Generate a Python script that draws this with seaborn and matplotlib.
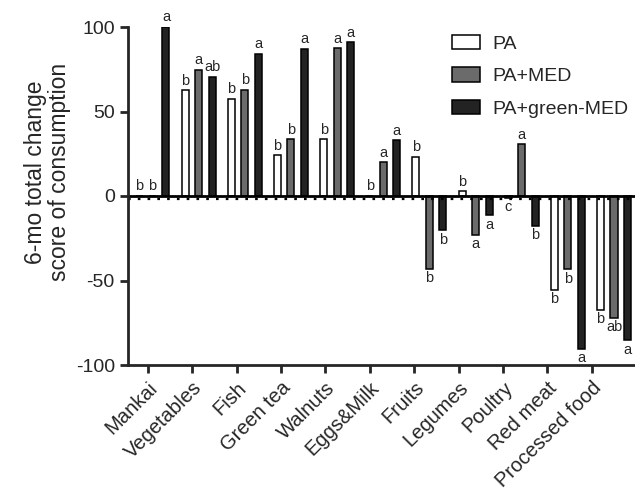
import pandas as pd
import numpy as np
import matplotlib
matplotlib.use("Agg")
import matplotlib.pyplot as plt
import matplotlib.transforms as mtransforms
import seaborn as sns

foods = ['Mankai', 'Vegetables', 'Fish', 'Green tea', 'Walnuts', 'Eggs&Milk',
         'Fruits', 'Legumes', 'Poultry', 'Red meat', 'Processed food']
groups = ['PA', 'PA+MED', 'PA+green-MED']

pa = [0, 62.6, 57.4, 24.0, 33.5, 0, 23.2, 2.7, -1.0, -55.5, -67.3]
pa_med = [0, 74.6, 62.8, 33.5, 87.4, 19.9, -43.1, -22.8, 30.7, -43.3, -72.0]
pa_green = [100, 70.7, 84.2, 87.0, 91.1, 32.9, -20.1, -11.4, -17.7, -90.5, -85.4]

pa_letters = ['b', 'b', 'b', 'b', 'b', 'b', 'b', 'b', 'c', 'b', 'b']
med_letters = ['b', 'a', 'b', 'b', 'a', 'a', 'b', 'a', 'a', 'b', 'ab']
green_letters = ['a', 'ab', 'a', 'a', 'a', 'a', 'b', 'a', 'b', 'a', 'a']

colors = ['white', '#6b6b6b', '#232323']

rows = []
for g, vals in zip(groups, [pa, pa_med, pa_green]):
    for f, v in zip(foods, vals):
        rows.append({'food': f, 'group': g, 'score': v})
df = pd.DataFrame(rows)

sns.set_style('ticks')
plt.rcParams['font.family'] = ['Liberation Sans', 'DejaVu Sans']
plt.rcParams['axes.unicode_minus'] = False

fig = plt.figure(figsize=(6.35, 4.92), dpi=100)
ax = fig.add_axes([128 / 635, 1 - 365 / 492, 507 / 635, 338 / 492])

sns.barplot(data=df, x='food', y='score', hue='group', order=foods,
            hue_order=groups, palette=colors, width=0.876, gap=0.48,
            edgecolor='black', linewidth=1.1, errorbar=None, ax=ax,
            legend=True)

# significance letters
for k, (vals, lets) in enumerate([(pa, pa_letters), (pa_med, med_letters),
                                  (pa_green, green_letters)]):
    off = (k - 1) * 0.292
    for i, (v, t) in enumerate(zip(vals, lets)):
        if v >= 0:
            ax.text(i + off, v + 1.5, t, ha='center', va='bottom',
                    fontsize=10.5, clip_on=False)
        else:
            ax.text(i + off, v - 1.5, t, ha='center', va='top',
                    fontsize=10.5, clip_on=False)

ax.set_xlim(-0.531, 10.455)
ax.set_ylim(-100, 100)
ax.set_yticks([-100, -50, 0, 50, 100])

# zero line with small dotted marks under it
ax.axhline(0, color='black', lw=2, zorder=1)
shift = mtransforms.offset_copy(ax.transData, fig=fig, x=0, y=-2.5, units='dots')
ax.plot([-0.531, 10.455], [0, 0], color='black', lw=1.6,
        linestyle=(0, (1.2, 3.2)), transform=shift, zorder=1)

tick_pos = [-0.0975 + 0.9615 * i for i in range(len(foods))]
ax.set_xticks(tick_pos)
ax.set_xticklabels(foods, rotation=45, ha='right', rotation_mode='anchor',
                   fontsize=14.5)
ax.tick_params(axis='y', labelsize=14, width=2, length=6)
ax.tick_params(axis='x', width=2, length=6)
ax.set_xlabel('')
ax.set_ylabel('6-mo total change\nscore of consumption', fontsize=16.5,
              linespacing=1.05)
ax.yaxis.set_label_coords(-0.112, 0.57)

sns.despine(ax=ax)
for s in ['left', 'bottom']:
    ax.spines[s].set_linewidth(2)

leg = ax.legend(loc='upper left', bbox_to_anchor=(0.623, 1.0), frameon=False,
                fontsize=14, handlelength=1.45, handleheight=0.75,
                labelspacing=0.75, handletextpad=0.65, borderaxespad=0)

fig.savefig('out.png', dpi=100)
